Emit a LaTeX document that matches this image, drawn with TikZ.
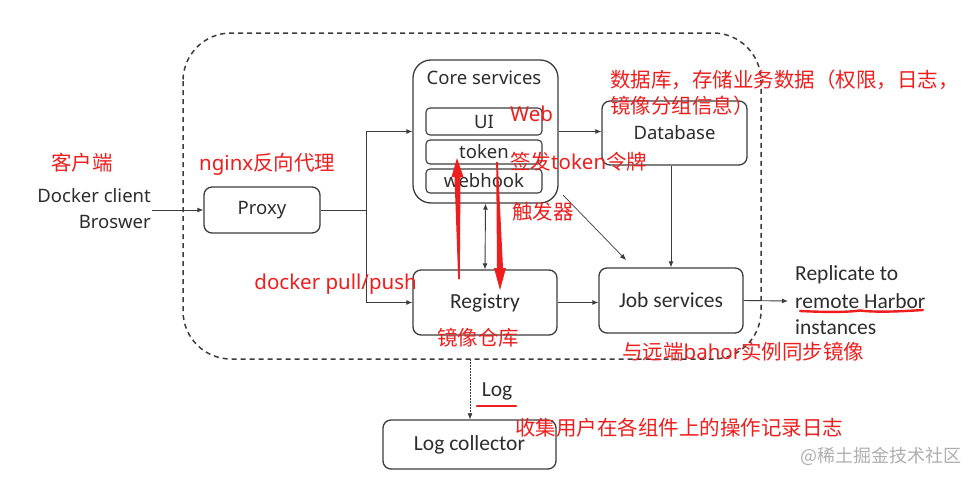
\documentclass[tikz,border=0pt]{standalone}
\usepackage{fontspec}
\newfontfamily\fseg{Noto Sans}
\newfontfamily\fcal{Carlito}
\newfontfamily\fcjk{Noto Sans CJK SC}
\usetikzlibrary{arrows.meta}
\definecolor{redc}{RGB}{238,30,30}
\definecolor{linec}{RGB}{60,60,60}
\definecolor{txtc}{RGB}{45,45,45}
\definecolor{wmc}{RGB}{175,175,175}
\begin{document}
\begin{tikzpicture}[x=1pt,y=-1pt,
 mainbox/.style={draw=linec,line width=1.3pt,rounded corners=8pt,inner sep=0pt},
 subbox/.style={draw=linec,line width=1.1pt,rounded corners=4pt,minimum width=116pt,inner sep=0pt},
 segtxt/.style={font=\fseg\fontsize{18.5}{20}\selectfont,text=txtc,inner sep=0pt},
 caltxt/.style={font=\fcal\fontsize{21.5}{23}\selectfont,text=txtc,inner sep=0pt},
 redtxt/.style={font=\fcjk\fontsize{20.5}{23}\selectfont,text=redc,inner sep=0pt},
 wmtxt/.style={font=\fcjk\fontsize{18}{20}\selectfont,text=wmc,inner sep=0pt},
 conn/.style={draw=linec,line width=0.9pt},
 arr/.style={conn,-{Latex[length=6pt,width=5pt]}},
 darr/.style={conn,{Latex[length=6pt,width=5pt]}-{Latex[length=6pt,width=5pt]}},
 redline/.style={draw=redc,line width=2.4pt,line cap=round},
]
\path[use as bounding box, fill=white] (0,0) rectangle (974,479);

% outer dashed boundary
\draw[linec,line width=1.5pt,dash pattern=on 5pt off 4pt,rounded corners=48pt] (183,33) rectangle (761,359);

% boxes
\node[mainbox,minimum width=116pt,minimum height=46pt,segtxt] (proxy) at (262,210) {Proxy};
\node[mainbox,rounded corners=18pt,minimum width=145pt,minimum height=143pt] (core) at (485.5,131.5) {};
\node[segtxt] (corelbl) at (484,78) {Core services};
\node[subbox,minimum height=27pt,segtxt] (ui) at (484,121.5) {UI};
\node[subbox,minimum height=24pt,segtxt] (token) at (484,152) {token};
\node[subbox,minimum height=24pt,segtxt] (webhook) at (484,181) {webhook};
\node[mainbox,minimum width=145pt,minimum height=64pt,segtxt] (db) at (674.5,133) {Database};
\node[mainbox,minimum width=144pt,minimum height=65pt,caltxt] (registry) at (485,302.5) {Registry};
\node[mainbox,minimum width=144pt,minimum height=65pt,caltxt] (job) at (671,300.5) {Job services};
\node[mainbox,minimum width=173pt,minimum height=49pt,caltxt] (logc) at (469.5,444.5) {Log collector};

% black texts
\node[segtxt,anchor=east] (dc1) at (151,196) {Docker client};
\node[segtxt,anchor=east] (dc2) at (151,222) {Broswer};
\node[caltxt,anchor=west] (rep1) at (795,275) {Replicate to};
\node[caltxt,anchor=west] (rep2) at (795,301) {remote Harbor};
\node[caltxt,anchor=west] (rep3) at (795,327) {instances};
\node[caltxt] (loglbl) at (497,391) {Log};

% connector coordinates
\coordinate (dcout) at (152,210);
\coordinate (split) at (366,210);
\coordinate (diagA) at (563,195);
\coordinate (diagB) at (626,260);
\coordinate (repin) at (788,301);
\coordinate (logtop) at (470,359);

% connectors
\draw[arr] (dcout) -- (proxy.west);
\draw[conn] (proxy.east) -- (split);
\draw[arr] (split) |- (core.west);
\draw[arr] (split) |- (registry.west);
\draw[arr] (core.east) -- (core.east -| db.west);
\draw[arr] (job.north |- db.south) -- (job.north);
\draw[darr] (core.south) -- (registry.north);
\draw[arr,line width=0.7pt] (diagA) -- (diagB);
\draw[arr] (registry.east) -- (registry.east -| job.west);
\draw[arr] (job.east) -- (repin);
\draw[arr,line width=0.7pt,dash pattern=on 1.5pt off 1.5pt] (logtop) -- (logtop |- logc.north);

% red annotation arrows (tapered)
\coordinate (upTip) at (457,158);
\coordinate (dnTip) at (500,290);
\fill[redc] (upTip) -- (463.5,177) -- (460.5,177) -- (459.8,279) -- (458.2,279) -- (454.5,177) -- (451.5,177) -- cycle;
\fill[redc] (dnTip) -- (506,268) -- (503,268) -- (497.8,162) -- (496.2,162) -- (497,268) -- (494,268) -- cycle;

% red underlines
\draw[redline] (800,311) .. controls (830,312.5) and (850,312) .. (860,310.5) .. controls (875,312.5) and (900,311.5) .. (923,310);
\draw[redline] (477,406) -- (516,406);

% red annotations
\node[redtxt] (t1) at (82,163) {客户端};
\node[redtxt,anchor=west] (t2) at (199,164) {{\fseg nginx}反向代理};
\node[redtxt,anchor=west] (t3) at (610,80) {数据库，存储业务数据（权限，日志，};
\node[redtxt,anchor=west] (t4) at (610,106) {镜像分组信息）};
\node[redtxt,anchor=west] (t5) at (510,114) {{\fseg Web}};
\node[redtxt,anchor=west] (t6) at (510,162) {签发{\fseg token}令牌};
\node[redtxt,anchor=west] (t7) at (512,212) {触发器};
\node[redtxt,anchor=east] (t8) at (417,284) {{\fseg docker pull/push}};
\node[redtxt,anchor=west] (t9) at (437,338) {镜像仓库};
\node[redtxt,anchor=west] (t10) at (622,352) {与远端{\fseg bahor}实例同步镜像};
\node[redtxt,anchor=west] (t11) at (515,428) {收集用户在各组件上的操作记录日志};
\node[wmtxt,anchor=west] (wm) at (800,456) {@稀土掘金技术社区};
\end{tikzpicture}
\end{document}
